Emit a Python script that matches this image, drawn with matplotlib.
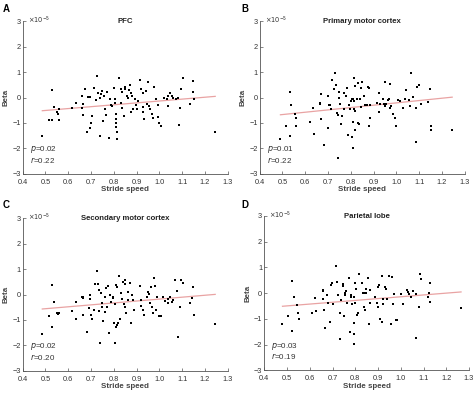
import matplotlib
matplotlib.use("Agg")
import matplotlib.pyplot as plt
import numpy as np

plt.rcParams['font.family'] = ['Liberation Sans', 'DejaVu Sans']

# ---------------- data (Beta in units of 1e-5) ----------------
titles = ["PFC", "Primary motor cortex", "Secondary motor cortex", "Parietal lobe"]
letters = ["A", "B", "C", "D"]
p_values = ["0.02", "0.01", "0.02", "0.03"]
r_values = ["0.22", "0.22", "0.20", "0.19"]

x_ticks = [0.4, 0.5, 0.6, 0.7, 0.8, 0.9, 1.0, 1.1, 1.2, 1.3]
x_tick_labels = ["0.4", "0.5", "0.6", "0.7", "0.8", "0.9", "1.0", "1.1", "1.2", "1.3"]
y_ticks = [-3, -2, -1, 0, 1, 2, 3]

# fitted line: slope, intercept
fit_slope = [0.744, 0.919, 0.757, 0.709]
fit_intercept = [-0.882, -1.131, -0.938, -0.850]

speed_A = [0.486, 0.530, 0.538, 0.514, 0.529, 0.549, 0.555, 0.560, 0.560, 0.618,
           0.633, 0.660, 0.663, 0.660, 0.663, 0.688, 0.696, 0.674, 0.681, 0.699,
           0.696, 0.704, 0.728, 0.715, 0.732, 0.740, 0.740, 0.750, 0.757, 0.754,
           0.763, 0.766, 0.772, 0.779, 0.783, 0.788, 0.802, 0.804, 0.807, 0.808,
           0.811, 0.808, 0.811, 0.816, 0.816, 0.824, 0.830, 0.835, 0.848, 0.848,
           0.830, 0.836, 0.843, 0.857, 0.861, 0.871, 0.876, 0.879, 0.877, 0.883,
           0.893, 0.898, 0.900, 0.915, 0.921, 0.930, 0.927, 0.930, 0.933, 0.940,
           0.952, 0.947, 0.953, 0.960, 0.966, 0.971, 0.978, 0.984, 0.996, 0.994,
           1.000, 1.006, 1.021, 1.032, 1.038, 1.040, 1.047, 1.054, 1.061, 1.075,
           1.080, 1.086, 1.095, 1.104, 1.092, 1.136, 1.146, 1.149, 1.151, 1.245,
           0.720, 0.745, 0.790, 0.865, 0.905]
beta_A = [-1.50, 0.28, -0.37, -0.88, -0.89, -0.56, -0.64, -0.46, -0.87, -0.43,
          -0.22, 0.05, -0.25, -0.43, -0.68, 0.03, 0.03, 0.35, -1.35, -1.01,
          -1.21, -0.72, 0.83, 0.39, 0.16, -0.01, -1.52, 0.25, 0.07, -0.94,
          -0.46, -0.68, 0.20, -1.60, -0.07, -0.28, 0.38, -0.07, -0.20, -0.66,
          -1.18, -1.01, -0.85, -1.64, -1.35, 0.76, 0.35, 0.22, 0.43, 0.35,
          -0.21, -0.42, -0.72, 0.05, -0.01, 0.50, 0.16, 0.04, -0.59, -0.46,
          -0.07, -0.29, -0.46, 0.67, 0.33, 0.16, -0.39, -0.59, -0.83, 0.25,
          0.62, -0.26, -0.33, -0.46, -0.66, -0.79, 0.42, -0.07, -0.30, -0.75,
          -1.00, -1.12, -0.01, -0.07, 0.07, -0.35, 0.17, 0.07, -0.01, -0.07,
          0.00, -1.09, 0.35, 0.77, -0.42, -0.25, 0.21, 0.66, -0.05, -1.34,
          -0.10, 0.12, -0.35, 0.30, -0.15]

speed_B = [0.491, 0.517, 0.535, 0.532, 0.539, 0.557, 0.561, 0.560, 0.620, 0.634,
           0.640, 0.663, 0.666, 0.669, 0.669, 0.681, 0.699, 0.704, 0.700, 0.710,
           0.714, 0.719, 0.726, 0.732, 0.734, 0.738, 0.742, 0.747, 0.750, 0.744,
           0.754, 0.756, 0.761, 0.769, 0.772, 0.781, 0.785, 0.788, 0.794, 0.798,
           0.802, 0.807, 0.809, 0.812, 0.813, 0.811, 0.807, 0.810, 0.815, 0.818,
           0.817, 0.820, 0.827, 0.830, 0.833, 0.837, 0.845, 0.849, 0.842, 0.845,
           0.857, 0.861, 0.870, 0.874, 0.878, 0.880, 0.883, 0.886, 0.915, 0.922,
           0.925, 0.930, 0.940, 0.944, 0.949, 0.952, 0.955, 0.962, 0.966, 0.971,
           0.973, 0.978, 0.985, 0.993, 1.000, 1.007, 1.017, 1.029, 1.038, 1.044,
           1.057, 1.061, 1.064, 1.072, 1.086, 1.086, 1.092, 1.100, 1.110, 1.139,
           1.146, 1.151, 1.151, 1.245]
beta_B = [-1.65, -1.13, 0.21, -1.51, -0.31, -0.66, -0.80, -1.12, -0.96, -0.43,
          -1.42, -0.20, -0.26, 0.13, -0.83, -1.88, 0.07, -0.30, -1.21, -0.30,
          -0.46, 0.68, 0.33, 0.96, 0.49, -0.62, -0.70, 0.20, 0.00, -2.38,
          -0.25, -1.06, -0.72, 0.16, -0.46, 0.07, 0.39, -1.47, -0.30, -0.46,
          -0.12, -0.07, -0.04, 0.77, -0.12, -0.98, -1.57, -2.00, -0.46, -0.55,
          0.45, -1.27, -0.04, 0.56, -1.01, -1.06, 0.39, 0.62, -0.07, -0.38,
          0.07, -0.30, -0.30, 0.42, 0.39, -1.12, -0.79, -0.30, -0.22, 0.16,
          -0.56, -0.26, -0.07, -0.24, -0.33, 0.62, -0.24, -0.09, -0.07, -0.43,
          0.52, -0.34, -0.64, -0.81, -1.12, -0.11, -0.13, -0.42, -0.07, 0.29,
          -0.09, -0.33, 0.96, 0.03, -1.75, -0.42, 0.42, 0.49, -0.24, -0.17,
          0.33, -1.13, -1.27, -1.27]

speed_C = [0.486, 0.514, 0.530, 0.528, 0.538, 0.549, 0.557, 0.561, 0.618, 0.633,
           0.634, 0.660, 0.663, 0.666, 0.663, 0.681, 0.690, 0.696, 0.696, 0.699,
           0.704, 0.712, 0.718, 0.728, 0.729, 0.734, 0.737, 0.740, 0.744, 0.747,
           0.750, 0.754, 0.760, 0.763, 0.766, 0.772, 0.776, 0.779, 0.783, 0.788,
           0.795, 0.798, 0.805, 0.802, 0.805, 0.810, 0.816, 0.820, 0.825, 0.811,
           0.816, 0.824, 0.830, 0.835, 0.842, 0.848, 0.849, 0.845, 0.851, 0.854,
           0.861, 0.864, 0.871, 0.874, 0.879, 0.883, 0.890, 0.915, 0.918, 0.919,
           0.927, 0.933, 0.944, 0.949, 0.955, 0.959, 0.962, 0.966, 0.971, 0.977,
           0.981, 0.984, 0.991, 1.000, 1.009, 1.018, 1.025, 1.036, 1.040, 1.047,
           1.054, 1.061, 1.067, 1.078, 1.083, 1.092, 1.096, 1.105, 1.135, 1.145,
           1.149, 1.152, 1.245]
beta_C = [-1.57, -0.84, 0.38, -1.27, -0.31, -0.72, -0.77, -0.72, -0.66, -0.31,
          -0.98, -0.09, -0.12, -0.09, -0.79, -1.48, -0.52, 0.00, -0.16, -0.81,
          -0.98, -0.62, 0.41, 0.92, 0.43, 0.17, -0.66, -1.90, 0.07, -0.35,
          -0.48, -1.06, -0.09, -0.68, 0.24, -0.51, 0.33, -1.50, -0.03, -0.29,
          -0.09, -0.13, -0.38, -1.12, -1.89, -1.27, -1.22, -1.14, -0.98, 0.37,
          0.30, 0.73, 0.04, -0.16, 0.50, 0.41, 0.56, -0.38, -0.49, -0.72,
          0.08, -0.22, 0.46, -1.12, -0.03, -0.22, -0.62, 0.33, -0.22, -0.45,
          -0.62, -0.81, -0.09, 0.11, 0.01, -0.33, 0.30, -0.51, -0.72, 0.66,
          0.33, -0.62, -0.09, -0.83, -0.86, -0.09, -0.25, -0.33, -0.16, -0.09,
          -0.29, -0.20, 0.56, 0.14, -1.67, -0.49, 0.56, 0.47, -0.33, -0.12,
          0.30, -0.81, -1.15]

speed_D = [0.480, 0.506, 0.522, 0.521, 0.530, 0.543, 0.547, 0.551, 0.608, 0.624,
           0.627, 0.656, 0.660, 0.657, 0.662, 0.669, 0.677, 0.681, 0.691, 0.692,
           0.698, 0.703, 0.717, 0.720, 0.724, 0.732, 0.735, 0.739, 0.744, 0.747,
           0.749, 0.754, 0.757, 0.761, 0.764, 0.773, 0.776, 0.779, 0.782, 0.786,
           0.795, 0.793, 0.793, 0.793, 0.797, 0.798, 0.804, 0.808, 0.812, 0.817,
           0.828, 0.834, 0.841, 0.848, 0.838, 0.844, 0.847, 0.859, 0.856, 0.863,
           0.866, 0.888, 0.895, 0.900, 0.900, 0.906, 0.910, 0.917, 0.918, 0.921,
           0.924, 0.930, 0.936, 0.939, 0.948, 0.956, 0.962, 0.965, 0.972, 0.980,
           0.984, 1.000, 1.010, 1.027, 1.032, 1.038, 1.045, 1.052, 1.068, 1.067,
           1.079, 1.084, 1.091, 1.118, 1.125, 1.130, 1.128, 1.265]
beta_D = [-1.21, -0.89, 0.47, -1.48, -0.14, -0.47, -0.76, -1.01, -0.79, -0.18,
          -0.70, 0.11, 0.09, -0.21, -0.64, -1.35, -0.07, -0.38, -1.11, 0.31,
          0.40, -0.43, 1.06, 0.43, -0.08, -0.79, -1.79, -0.27, 0.27, 0.35,
          -0.88, 0.00, -0.08, 0.08, -0.39, 0.57, -1.51, -0.14, -0.08, -0.43,
          -1.18, -1.57, -1.96, -0.14, -0.38, 0.41, 0.18, -0.86, -0.79, 0.73,
          0.40, 0.00, 0.00, 0.00, -0.53, -0.64, 0.18, -1.21, 0.57, 0.12,
          -0.38, -0.14, -0.38, -0.53, 0.22, 0.31, -0.99, 0.65, -1.12, -0.21,
          -0.43, 0.25, 0.16, -0.21, 0.67, -1.19, 0.63, -0.43, -0.04, -1.05,
          -1.05, -0.04, -0.43, 0.14, 0.05, -0.04, -0.14, 0.09, -1.73, -0.04,
          -0.54, 0.73, 0.54, -0.14, 0.00, 0.39, -0.34, -0.56]

speeds = [speed_A, speed_B, speed_C, speed_D]
betas = [beta_A, beta_B, beta_C, beta_D]

# ---------------- figure ----------------
W, H = 474, 394
fig = plt.figure(figsize=(W / 100, H / 100), dpi=100)

# axes boxes in pixels: left, right, top, bottom
boxes = [(22.7, 227.7, 21.3, 173.7),
         (259.7, 464.7, 21.3, 173.7),
         (22.7, 227.7, 218.3, 370.7),
         (264.3, 469.0, 216.0, 370.3)]
letter_pos = [(3, 9), (241, 9), (3, 205), (241, 205)]

axis_col = "#555555"
text_col = "#333333"
fs = 5.3

for i in range(4):
    l, r, t, b = boxes[i]
    ax = fig.add_axes([l / W, 1 - b / H, (r - l) / W, (b - t) / H])
    n = min(len(speeds[i]), len(betas[i]))
    xs = np.array(speeds[i][:n])
    ys = np.array(betas[i][:n])
    ax.scatter(xs, ys, s=2.2, marker='s', color='black', linewidths=0, zorder=3)
    xl = np.array([xs.min(), xs.max()])
    ax.plot(xl, fit_slope[i] * xl + fit_intercept[i], color='#e9a3a3', lw=0.9, zorder=2)

    ax.set_xlim(0.4, 1.3)
    ax.set_ylim(-3, 3)
    ax.set_xticks(x_ticks)
    ax.set_xticklabels(x_tick_labels)
    ax.set_yticks(y_ticks)
    ax.set_yticklabels(["\u22123", "\u22122", "\u22121", "0", "1", "2", "3"])
    for s in ["top", "right"]:
        ax.spines[s].set_visible(False)
    for s in ["left", "bottom"]:
        ax.spines[s].set_color(axis_col)
        ax.spines[s].set_linewidth(0.6)
    ax.tick_params(direction='in', length=2, width=0.5, colors=axis_col,
                   labelsize=fs, labelcolor=text_col)
    ax.tick_params(axis='x', pad=3.5)
    ax.tick_params(axis='y', pad=1.5)
    ax.set_xlabel("Stride speed", fontsize=fs + 0.4, fontweight='bold',
                  color='#444444', labelpad=0.5)
    ax.set_ylabel("Beta", fontsize=fs + 0.4, fontweight='bold',
                  color='#444444', labelpad=2)
    ax.text(0.5, 1.0, titles[i], transform=ax.transAxes, ha='center', va='center',
            fontsize=fs + 0.3, fontweight='bold', color='#222222')
    ax.text(0.025, 1.005, r"$\times10^{-5}$", transform=ax.transAxes, ha='left',
            va='center', fontsize=fs - 0.5, color=text_col)
    ax.text(0.035, 0.157, "$p$=" + p_values[i], transform=ax.transAxes,
            ha='left', va='center', fontsize=fs + 0.5, color=text_col)
    ax.text(0.035, 0.092, "$r$=" + r_values[i], transform=ax.transAxes,
            ha='left', va='center', fontsize=fs + 0.5, color=text_col)

    lx, ly = letter_pos[i]
    fig.text(lx / W, 1 - ly / H, letters[i], fontsize=7, fontweight='bold',
             color='black', ha='left', va='center')

fig.savefig("out.png", dpi=100)
